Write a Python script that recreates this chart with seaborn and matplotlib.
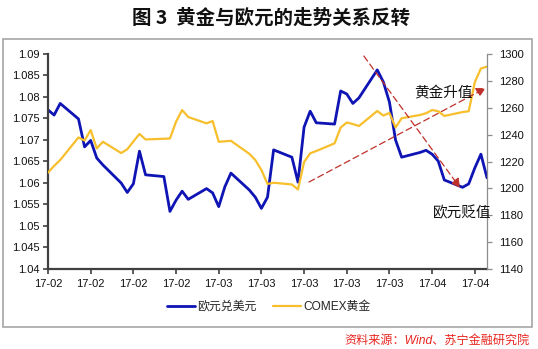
import matplotlib
matplotlib.use("Agg")
import matplotlib.pyplot as plt
import matplotlib.dates as mdates
import matplotlib.patches as mpatches
from matplotlib.ticker import FuncFormatter, MultipleLocator
import pandas as pd
import seaborn as sns

# ---- data -------------------------------------------------------------
start_date = "2017-02-01"

# EUR/USD, day offsets from the start date (trading days)
eur_days = [0, 1, 2, 5, 6, 7, 8, 9, 12, 13, 14, 15, 16, 19, 20, 21, 22, 23,
            26, 27, 28, 29, 30, 33, 34, 35, 36, 37, 40, 41, 42, 43, 44,
            47, 48, 49, 50, 51, 54, 55, 56, 57, 58, 61, 62, 63, 64, 65,
            68, 69, 70, 71, 72]
eur_vals = [1.0770, 1.0758, 1.0785, 1.0749, 1.0684, 1.0699, 1.0658, 1.0642,
            1.0600, 1.0578, 1.0598, 1.0674, 1.0619, 1.0615, 1.0534, 1.0560,
            1.0581, 1.0562, 1.0587, 1.0577, 1.0545, 1.0591, 1.0623, 1.0584,
            1.0567, 1.0541, 1.0567, 1.0677, 1.0660, 1.0602, 1.0730, 1.0767,
            1.0740, 1.0737, 1.0814, 1.0807, 1.0785, 1.0798, 1.0863, 1.0835,
            1.0788, 1.0700, 1.0660, 1.0671, 1.0676, 1.0667, 1.0651, 1.0607,
            1.0590, 1.0598, 1.0635, 1.0667, 1.0612]

# COMEX gold, day offsets from the start date
gold_days = [0, 1, 2, 5, 6, 7, 8, 9, 12, 13, 14, 15, 16, 20, 21, 22, 23,
             26, 27, 28, 29, 30, 33, 34, 35, 36, 37, 40, 41, 42, 43, 44,
             47, 48, 49, 50, 51, 54, 55, 56, 57, 58, 61, 62, 63, 64, 65,
             68, 69, 70, 71, 72]
gold_vals = [1211.7, 1216.7, 1221.1, 1237.9, 1235.6, 1243.4, 1229.7, 1234.7,
             1226.3, 1229.1, 1234.9, 1240.5, 1236.4, 1237.1, 1249.6, 1258.3,
             1253.1, 1248.4, 1250.1, 1234.7, 1235.0, 1235.4, 1225.8, 1221.1,
             1213.7, 1203.3, 1204.2, 1202.9, 1199.2, 1219.6, 1226.1, 1227.8,
             1233.5, 1245.3, 1249.0, 1247.9, 1246.4, 1257.6, 1254.2, 1256.1,
             1245.3, 1252.2, 1254.6, 1255.9, 1258.3, 1257.4, 1253.9, 1256.8,
             1257.4, 1279.0, 1289.2, 1290.6]

tick_days = [0, 7, 14, 21, 28, 35, 42, 49, 56, 63, 70]

eur_name = "欧元兑美元"
gold_name = "COMEX黄金"
title = "图 3  黄金与欧元的走势关系反转"
source = "资料来源：Wind、苏宁金融研究院"

# ---- styling ----------------------------------------------------------
sns.set_style("white")
plt.rcParams["font.family"] = ["Liberation Sans", "Noto Sans CJK SC", "DejaVu Sans"]
CJK = ["Noto Sans CJK SC", "DejaVu Sans"]

blue = "#0F14B4"
gold = "#F7BF2C"
arrow_red = "#C0302A"

t0 = pd.Timestamp(start_date)
eur = pd.DataFrame({"date": t0 + pd.to_timedelta(eur_days, unit="D"), "value": eur_vals})
gld = pd.DataFrame({"date": t0 + pd.to_timedelta(gold_days, unit="D"), "value": gold_vals})
ticks = t0 + pd.to_timedelta(tick_days, unit="D")

W, H = 538, 349
fig = plt.figure(figsize=(W / 100, H / 100), dpi=100)
fig.patch.set_facecolor("white")

ax = fig.add_axes([48 / W, 1 - 269 / H, (487 - 48) / W, 215 / H])
ax2 = ax.twinx()

sns.lineplot(data=eur, x="date", y="value", ax=ax, color=blue, linewidth=2.0,
             label=eur_name, legend=False, solid_joinstyle="round")
sns.lineplot(data=gld, x="date", y="value", ax=ax2, color=gold, linewidth=1.6,
             label=gold_name, legend=False)

ax.set_xlim(t0, t0 + pd.Timedelta(days=72))
ax.set_ylim(1.04, 1.09)
ax2.set_ylim(1140, 1300)
ax.yaxis.set_major_locator(MultipleLocator(0.005))
ax.yaxis.set_major_formatter(FuncFormatter(lambda v, p: f"{v:.3f}".rstrip("0").rstrip(".")))
ax2.yaxis.set_major_locator(MultipleLocator(20))
ax.set_xticks(ticks)
ax.xaxis.set_major_formatter(mdates.DateFormatter("%y-%m"))
ax.set_xlabel("")
ax.set_ylabel("")
ax2.set_ylabel("")
ax.grid(False)
ax2.grid(False)

for s in ["top", "right"]:
    ax.spines[s].set_visible(False)
for s in ["left", "bottom"]:
    ax.spines[s].set_color("#404040")
    ax.spines[s].set_linewidth(1.6)
for s in ["top", "left", "bottom"]:
    ax2.spines[s].set_visible(False)
ax2.spines["right"].set_color("#8C8C8C")
ax2.spines["right"].set_linewidth(0.9)

ax.tick_params(axis="both", direction="out", length=3.5, width=1.2, color="#404040",
               labelsize=8, labelcolor="#111111", pad=2.5)
ax.tick_params(axis="y", left=True)
ax.tick_params(axis="x", bottom=True, pad=3.5)
ax2.tick_params(axis="y", direction="out", length=3.5, width=0.9, color="#8C8C8C",
                labelsize=8, labelcolor="#111111", pad=5, right=True)

# ---- trend arrows -----------------------------------------------------
def dnum(days):
    return mdates.date2num(t0 + pd.Timedelta(days=days))

arrow_kw = dict(arrowstyle="-|>,head_length=0.55,head_width=0.28", color=arrow_red,
                lw=0.9, linestyle=(0, (5, 3)), shrinkA=0, shrinkB=0)
ax2.annotate("", xy=(dnum(71.8), 1274.7), xytext=(dnum(42.8), 1204.7),
             arrowprops=arrow_kw, zorder=5)
ax2.annotate("", xy=(dnum(67.6), 1200.3), xytext=(dnum(51.8), 1298.5),
             arrowprops=arrow_kw, zorder=5)
ax2.text(dnum(64.9), 1271.0, "黄金升值", ha="center", va="center", fontsize=10.5,
         family=CJK, color="#111111", zorder=6)
ax2.text(dnum(67.9), 1181.3, "欧元贬值", ha="center", va="center", fontsize=10.5,
         family=CJK, color="#111111", zorder=6, clip_on=False)

# ---- legend, title, frame, source --------------------------------------
handles = [ax.lines[0], ax2.lines[0]]
fig.legend(handles, [eur_name, gold_name], loc="center", bbox_to_anchor=(0.5, 1 - 307 / H),
           ncol=2, frameon=False, prop={"family": ["Liberation Sans"] + CJK, "size": 8.6},
           handlelength=2.3, handletextpad=0.2, columnspacing=1.4)

fig.text(271.5 / W, 1 - 18 / H, title, ha="center", va="center", fontsize=14,
         fontweight="bold", family=CJK, color="#111111")

fig.patches.append(mpatches.Rectangle((3 / W, 1 - 327 / H), (532 - 3) / W, (327 - 39) / H,
                                      transform=fig.transFigure, fill=False,
                                      edgecolor="#A6A6A6", linewidth=1.2))

fig.text(530 / W, 1 - 340.5 / H, source, ha="right", va="center", fontsize=8.7,
         style="italic", color="#E8251F", family=["Liberation Sans"] + CJK)

fig.savefig("out.png", dpi=100)
